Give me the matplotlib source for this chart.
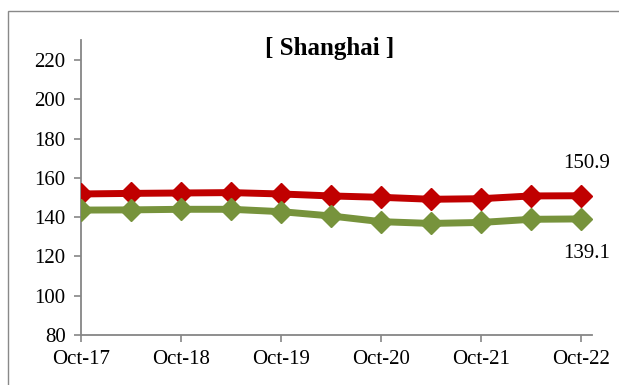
import matplotlib.pyplot as plt
from matplotlib.patches import Rectangle

# ---------------------------
# Data (half-yearly readings)
# ---------------------------
periods = ['Oct-17', 'Apr-18', 'Oct-18', 'Apr-19', 'Oct-19', 'Apr-20',
           'Oct-20', 'Apr-21', 'Oct-21', 'Apr-22', 'Oct-22']
red_values = [151.8, 152.1, 152.3, 152.5, 151.8, 150.8, 150.1, 149.1, 149.4, 150.8, 150.9]
green_values = [143.6, 143.7, 144.0, 144.0, 142.8, 140.6, 137.7, 136.8, 137.3, 138.9, 139.1]
tick_labels = ['Oct-17', 'Oct-18', 'Oct-19', 'Oct-20', 'Oct-21', 'Oct-22']

plt.rcParams['font.family'] = ['Liberation Serif', 'DejaVu Serif']

fig = plt.figure(figsize=(6.19, 3.85), dpi=100)
ax = fig.add_axes([0.1309, 0.1299, 0.8255, 0.7662])

x = list(range(len(periods)))
ax.plot(x, red_values, color='#C00000', lw=5, marker='D', ms=11,
        mec='#C00000', mew=1, solid_joinstyle='round', zorder=3)
ax.plot(x, green_values, color='#77933C', lw=5, marker='D', ms=11,
        mec='#77933C', mew=1, solid_joinstyle='round', zorder=3)

# end-point labels
ax.annotate(f"{red_values[-1]:.1f}", (x[-1], red_values[-1]), xytext=(4, 23),
            textcoords='offset points', ha='center', va='center',
            fontsize=15, annotation_clip=False)
ax.annotate(f"{green_values[-1]:.1f}", (x[-1], green_values[-1]), xytext=(4, -25),
            textcoords='offset points', ha='center', va='center',
            fontsize=15, annotation_clip=False)

ax.set_xlim(0, 10.22)
ax.set_ylim(80, 230.2)
ax.set_yticks(range(80, 221, 20))
ax.set_xticks(x[::2])
ax.set_xticklabels(tick_labels)

for side in ['top', 'right']:
    ax.spines[side].set_visible(False)
for side in ['left', 'bottom']:
    ax.spines[side].set_color('#868686')
    ax.spines[side].set_linewidth(1.3)
ax.tick_params(axis='both', direction='out', length=5, width=1.2,
               color='#868686', labelsize=15, pad=6)

fig.text(330 / 619, 0.873, '[ Shanghai ]', ha='center', va='center',
         fontsize=18, fontweight='bold')

# chart area border (runs off the right and bottom of the image)
fig.patches.append(Rectangle((8 / 619, -0.1), 1.2, 1 - 11 / 385 + 0.1,
                             transform=fig.transFigure, fill=False,
                             edgecolor='#898989', lw=1.0))

fig.savefig('out.png', dpi=100)
plt.close(fig)
